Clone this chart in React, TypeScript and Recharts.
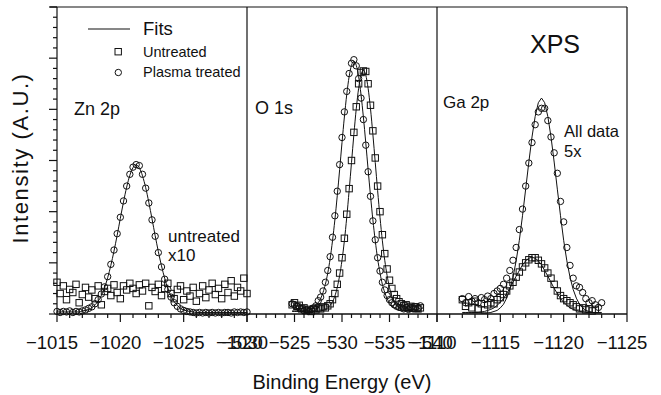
import { ComposedChart, Line, XAxis, YAxis, ReferenceLine } from 'recharts'

const FONT = '"Liberation Sans", Arial, Helvetica, sans-serif'
const INK = '#111'
const STEP = 0.25 // eV between recorded points

// Zn 2p (untreated shown x10), energies from -1015 eV downwards
const znStart = -1015
const znFit = [
  0.04, 0.04, 0.04, 0.04, 0.04, 0.04, 0.04, 0.04, 0.06, 0.07, 0.09, 0.12, 0.18, 0.25, 0.36, 0.51,
  0.71, 0.95, 1.23, 1.54, 1.87, 2.19, 2.48, 2.71, 2.86, 2.91, 2.86, 2.7, 2.47, 2.18, 1.86, 1.53,
  1.22, 0.94, 0.7, 0.5, 0.35, 0.24, 0.17, 0.11, 0.08, 0.06, 0.05, 0.04, 0.03, 0.03, 0.03, 0.03,
  0.03, 0.03, 0.03, 0.03, 0.03, 0.03, 0.03, 0.03, 0.03, 0.03, 0.03, 0.03, 0.03,
]
const znUntreated = [
  0.62, 0.4, 0.55, 0.28, 0.48, 0.42, 0.58, 0.22, 0.38, 0.52, 0.33, 0.47, 0.3, 0.55, 0.18, 0.44,
  0.5, 0.36, 0.57, 0.42, 0.3, 0.55, 0.47, 0.6, 0.5, 0.4, 0.57, 0.45, 0.6, 0.16, 0.52, 0.44,
  0.58, 0.36, 0.5, 0.6, 0.4, 0.3, 0.48, 0.55, 0.28, 0.45, 0.35, 0.52, 0.25, 0.4, 0.55, 0.32,
  0.47, 0.6, 0.38, 0.5, 0.3, 0.58, 0.42, 0.65, 0.35, 0.52, 0.45, 0.7, 0.4,
]
const znPlasma = [
  0.05, 0.03, 0.05, 0.04, 0.06, 0.03, 0.05, 0.04, 0.06, 0.08, 0.11, 0.14, 0.2, 0.28, 0.39, 0.53,
  0.73, 0.97, 1.25, 1.57, 1.89, 2.21, 2.5, 2.73, 2.87, 2.92, 2.9, 2.73, 2.46, 2.17, 1.84, 1.52,
  1.2, 0.92, 0.68, 0.48, 0.33, 0.22, 0.15, 0.1, 0.07, 0.05, 0.04, 0.03, 0.02, 0.03, 0.02, 0.03,
  0.02, 0.03, 0.02, 0.03, 0.02, 0.03, 0.03, 0.02, 0.04, 0.03, 0.04, 0.03, 0.04,
]

// O 1s, energies from -524.75 eV downwards
const oStart = -524.75
const oPlasmaFit = [
  0.06, 0.06, 0.06, 0.06, 0.06, 0.06, 0.07, 0.08, 0.1, 0.12, 0.16, 0.22, 0.3, 0.42, 0.58, 0.8,
  1.08, 1.43, 1.84, 2.31, 2.82, 3.35, 3.85, 4.29, 4.64, 4.86, 4.94, 4.86, 4.64, 4.29, 3.85, 3.35,
  2.82, 2.31, 1.84, 1.43, 1.08, 0.8, 0.58, 0.42, 0.3, 0.22, 0.16, 0.12, 0.1, 0.08, 0.07, 0.06,
  0.06, 0.06, 0.06, 0.06, 0.06, 0.06, 0.06,
]
const oUntreatedFit = [
  0.05, 0.05, 0.05, 0.05, 0.05, 0.05, 0.05, 0.05, 0.05, 0.05, 0.05, 0.05, 0.06, 0.07, 0.09, 0.12,
  0.17, 0.24, 0.35, 0.52, 0.75, 1.05, 1.43, 1.89, 2.41, 2.96, 3.51, 4.01, 4.41, 4.67, 4.76, 4.67,
  4.41, 4.01, 3.51, 2.96, 2.41, 1.89, 1.43, 1.05, 0.75, 0.52, 0.35, 0.24, 0.17, 0.12, 0.09, 0.07,
  0.06, 0.05, 0.05, 0.05, 0.05, 0.05, 0.05,
]
const oUntreated = [
  0.18, 0.22, 0.15, 0.17, 0.1, 0.12, 0.07, 0.09, 0.05, 0.1, 0.08, 0.12, 0.1, 0.14, 0.12, 0.16,
  0.2, 0.28, 0.4, 0.58, 0.8, 1.1, 1.48, 1.95, 2.45, 3.0, 3.55, 4.05, 4.5, 4.72, 4.75, 4.74,
  4.5, 4.08, 3.58, 3.05, 2.5, 2.0, 1.55, 1.18, 0.88, 0.66, 0.5, 0.38, 0.3, 0.24, 0.2, 0.16,
  0.18, 0.13, 0.15, 0.11, 0.14, 0.1, 0.12,
]
const oPlasma = [
  0.2, 0.18, 0.15, 0.12, 0.1, 0.06, 0.08, 0.05, 0.09, 0.12, 0.16, 0.26, 0.33, 0.45, 0.62, 0.85,
  1.12, 1.5, 1.92, 2.4, 2.92, 3.45, 3.95, 4.35, 4.7, 4.9, 4.97, 4.85, 4.6, 4.22, 3.8, 3.3,
  2.78, 2.3, 1.82, 1.45, 1.1, 0.84, 0.62, 0.47, 0.36, 0.28, 0.22, 0.18, 0.15, 0.13, 0.12, 0.1,
  0.13, 0.09, 0.12, 0.1, 0.14, 0.11, 0.16,
]

// Ga 2p (all data 5x), energies from -1112 eV downwards
const gaStart = -1112
const gaPlasmaFit = [
  0.02, 0.02, 0.02, 0.02, 0.02, 0.02, 0.02, 0.02, 0.02, 0.03, 0.05, 0.07, 0.12, 0.19, 0.31, 0.48,
  0.72, 1.04, 1.44, 1.92, 2.44, 2.97, 3.46, 3.86, 4.13, 4.22, 4.13, 3.86, 3.46, 2.97, 2.44, 1.92,
  1.44, 1.04, 0.72, 0.48, 0.31, 0.19, 0.12, 0.07, 0.05, 0.03, 0.02, 0.02, 0.02,
]
const gaUntreatedFit = [
  0.03, 0.03, 0.03, 0.03, 0.03, 0.03, 0.04, 0.05, 0.07, 0.09, 0.12, 0.17, 0.23, 0.3, 0.4, 0.5,
  0.62, 0.74, 0.85, 0.96, 1.04, 1.09, 1.11, 1.09, 1.04, 0.96, 0.85, 0.74, 0.62, 0.5, 0.4, 0.3,
  0.23, 0.17, 0.12, 0.09, 0.07, 0.05, 0.04, 0.03, 0.03, 0.03, 0.03, 0.03, 0.03,
]
const gaUntreated = [
  0.28, 0.15, 0.22, 0.12, 0.25, 0.1, 0.2, 0.08, 0.18, 0.22, 0.2, 0.28, 0.32, 0.38, 0.45, 0.55,
  0.62, 0.72, 0.82, 0.92, 1.0, 1.06, 1.1, 1.1, 1.05, 0.98, 0.9, 0.8, 0.7, 0.58, 0.45, 0.36,
  0.3, 0.26, 0.22, 0.18, 0.14, 0.1, 0.12, 0.08, 0.1, 0.06, 0.09, null, null,
]
const gaPlasma = [
  0.3, 0.22, 0.34, 0.25, 0.3, 0.22, 0.32, 0.28, 0.35, 0.3, 0.4, 0.45, 0.5, 0.58, 0.7, 0.85,
  1.05, 1.3, 1.65, 2.05, 2.5, 2.95, 3.35, 3.7, 3.95, 4.02, 4.02, 3.78, 3.46, 3.15, 2.75, 2.2,
  1.8, 1.3, 0.95, 0.7, 0.55, 0.52, 0.42, 0.3, 0.22, 0.26, 0.18, 0.13, 0.22,
]

const znMajor = [-1015, -1020, -1025, -1030]
const oMajor = [-520, -525, -530, -535, -540]
const gaMajor = [-1110, -1115, -1120, -1125]
const Y_MAX = 6

type Series = Record<string, (number | null)[]>

function buildRows(start: number, series: Series) {
  const keys = Object.keys(series)
  return series[keys[0]].map((_, i) => {
    const row: Record<string, number | null> = { e: start - STEP * i }
    keys.forEach((k) => (row[k] = series[k][i]))
    return row
  })
}

const znRows = buildRows(znStart, { fit: znFit, untreated: znUntreated, plasma: znPlasma })
const oRows = buildRows(oStart, {
  plasmaFit: oPlasmaFit,
  untreatedFit: oUntreatedFit,
  untreated: oUntreated,
  plasma: oPlasma,
})
const gaRows = buildRows(gaStart, {
  plasmaFit: gaPlasmaFit,
  untreatedFit: gaUntreatedFit,
  untreated: gaUntreated,
  plasma: gaPlasma,
})

// every whole eV gets a tick, the majors get a label
const eVTicks = (hi: number, lo: number) => Array.from({ length: hi - lo + 1 }, (_, i) => hi - i)
const yTicks = Array.from({ length: 31 }, (_, i) => i / 5)

const xTick = (majors: number[]) => (p: any) => {
  const major = majors.includes(p.payload.value)
  return (
    <g key={p.index}>
      <line x1={p.x} x2={p.x} y1={p.y} y2={p.y + (major ? 8 : 4)} stroke={INK} strokeWidth={1.2} />
      {major && (
        <text x={p.x - 5} y={p.y + 34.5} textAnchor="middle" fontSize={18.5} fontFamily={FONT} fill={INK}>
          {'\u2212' + Math.abs(p.payload.value)}
        </text>
      )}
    </g>
  )
}

const yTick = (p: any) => {
  const major = Number.isInteger(p.payload.value)
  return <line key={p.index} x1={p.x} x2={p.x - (major ? 8 : 4)} y1={p.y} y2={p.y} stroke={INK} strokeWidth={1.2} />
}

const squareDot = (p: any) => {
  if (p.value == null || p.cy == null) return <g key={p.index} />
  return <rect key={p.index} x={p.cx - 3.2} y={p.cy - 3.2} width={6.4} height={6.4} fill="none" stroke={INK} strokeWidth={1} />
}

const circleDot = (p: any) => {
  if (p.value == null || p.cy == null) return <g key={p.index} />
  return <circle key={p.index} cx={p.cx} cy={p.cy} r={3.2} fill="none" stroke={INK} strokeWidth={1} />
}

interface PanelProps {
  left: number
  rows: Record<string, number | null>[]
  domain: [number, number]
  majors: number[]
  fits: string[]
  fitType: 'monotone' | 'linear'
  showY?: boolean
  children?: React.ReactNode
}

function Panel({ left, rows, domain, majors, fits, fitType, showY = false, children }: PanelProps) {
  const ticks = eVTicks(domain[1], domain[0])
  return (
    <div style={{ position: 'absolute', left, top: 0 }}>
      <ComposedChart
        width={showY ? 287 : 270}
        height={395}
        data={rows}
        margin={{ top: 7, right: 40, bottom: 41, left: showY ? 0 : 40 }}
      >
        <XAxis
          dataKey="e"
          type="number"
          domain={domain}
          reversed
          ticks={ticks}
          interval={0}
          tickSize={0}
          tickMargin={0}
          tickLine={false}
          tick={xTick(majors)}
          height={40}
          stroke={INK}
          strokeWidth={1.2}
        />
        <YAxis
          type="number"
          domain={[0, Y_MAX]}
          hide={!showY}
          width={57}
          ticks={yTicks}
          interval={0}
          tickSize={0}
          tickMargin={0}
          tickLine={false}
          tick={yTick}
          stroke={INK}
          strokeWidth={1.2}
        />
        {/* frame: bottom, top and the right edge (next panel's left edge) */}
        <ReferenceLine y={0} stroke={INK} strokeWidth={1.2} />
        <ReferenceLine y={Y_MAX} stroke={INK} strokeWidth={1.2} />
        <ReferenceLine x={domain[0]} stroke={INK} strokeWidth={1.2} />
        {fits.map((k) => (
          <Line key={k} dataKey={k} type={fitType} stroke={INK} strokeWidth={1} dot={false} activeDot={false} isAnimationActive={false} />
        ))}
        <Line dataKey="untreated" stroke="none" dot={squareDot} activeDot={false} isAnimationActive={false} />
        <Line dataKey="plasma" stroke="none" dot={circleDot} activeDot={false} isAnimationActive={false} />
        {children}
      </ComposedChart>
    </div>
  )
}

const txt = { fontFamily: FONT, fill: INK }

export default function App() {
  return (
    <div style={{ position: 'relative', width: 661, height: 395, background: '#fff', overflow: 'hidden', fontFamily: FONT }}>
      <style>{'body{margin:0}'}</style>
      <Panel left={0} rows={znRows} domain={[-1030, -1015]} majors={znMajor} fits={['fit']} fitType="monotone" showY>
        <line x1={50} x2={57} y1={7} y2={7} stroke={INK} strokeWidth={1.2} />
        <text {...txt} fontSize={22} letterSpacing={1.6} textAnchor="middle" transform="translate(28,158) rotate(-90)">
          Intensity (A.U.)
        </text>
        <line x1={88} x2={130} y1={29} y2={29} stroke={INK} strokeWidth={1.2} />
        <text {...txt} x={143} y={35} fontSize={18.5}>Fits</text>
        <rect x={115} y={48.5} width={6.4} height={6.4} fill="none" stroke={INK} />
        <text {...txt} x={143} y={57} fontSize={14.5}>Untreated</text>
        <circle cx={118.3} cy={72.5} r={3.2} fill="none" stroke={INK} />
        <text {...txt} x={143} y={77} fontSize={14.5}>Plasma treated</text>
        <text {...txt} x={74} y={115} fontSize={18}>Zn 2p</text>
        <text {...txt} x={168} y={242} fontSize={17}>untreated</text>
        <text {...txt} x={168} y={261} fontSize={17}>x10</text>
      </Panel>
      <Panel left={207} rows={oRows} domain={[-540, -520]} majors={oMajor} fits={['plasmaFit', 'untreatedFit']} fitType="monotone">
        <text {...txt} x={48} y={114} fontSize={18}>O 1s</text>
        <text {...txt} x={135} y={389} fontSize={20} textAnchor="middle">Binding Energy (eV)</text>
      </Panel>
      <Panel left={397} rows={gaRows} domain={[-1125, -1110]} majors={gaMajor} fits={['plasmaFit', 'untreatedFit']} fitType="linear">
        <text {...txt} x={46} y={108} fontSize={17}>Ga 2p</text>
        <text {...txt} x={133} y={53} fontSize={25}>XPS</text>
        <text {...txt} x={167} y={137} fontSize={16.5}>All data</text>
        <text {...txt} x={167} y={157} fontSize={16.5}>5x</text>
      </Panel>
    </div>
  )
}
